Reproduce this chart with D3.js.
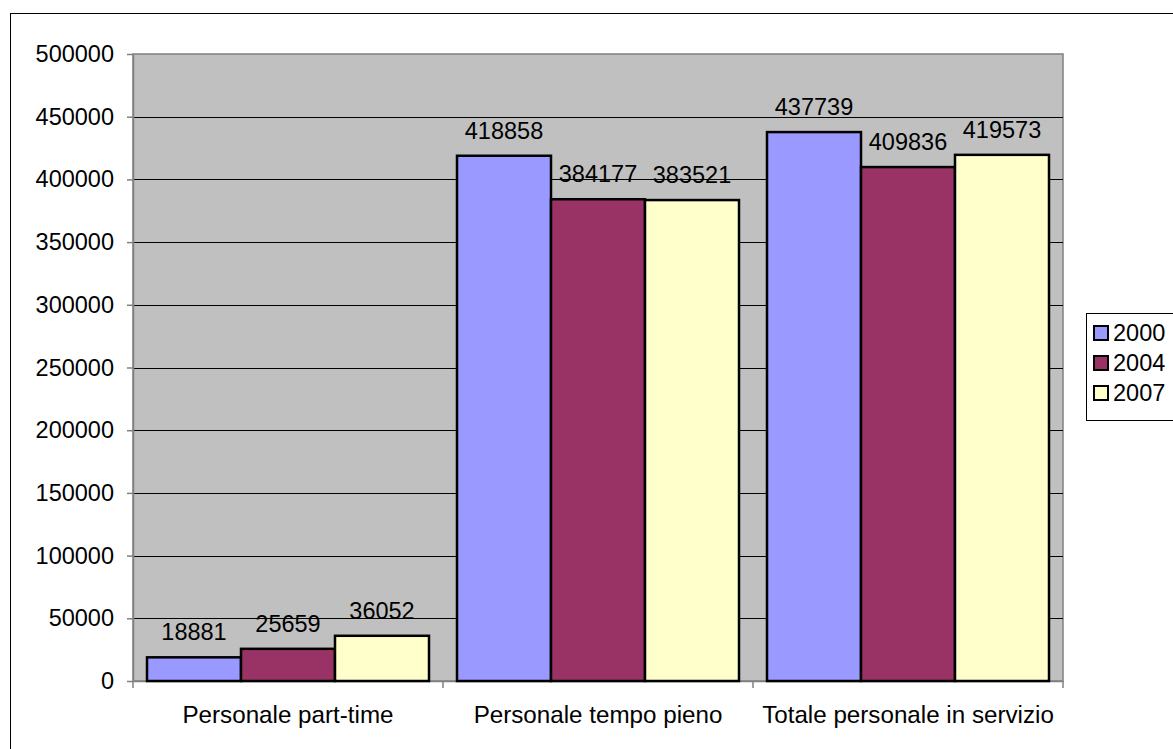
<!DOCTYPE html>
<html><head><meta charset="utf-8">
<script src="https://cdn.jsdelivr.net/npm/d3@7"></script>
<style>html,body{margin:0;padding:0;background:#fff;overflow:hidden}</style>
</head><body>
<svg id="c" width="1173" height="749"></svg>
<script>
const categories = ["Personale part-time", "Personale tempo pieno", "Totale personale in servizio"];
const seriesNames = ["2000", "2004", "2007"];
const values2000 = [18881, 418858, 437739];
const values2004 = [25659, 384177, 409836];
const values2007 = [36052, 383521, 419573];
const yTicks = [0, 50000, 100000, 150000, 200000, 250000, 300000, 350000, 400000, 450000, 500000];
const colors = ["#9999FF", "#993366", "#FFFFCC"];

const series = [values2000, values2004, values2007];
const svg = d3.select("#c");
const font = "'Liberation Sans', Arial, sans-serif";
const fs = 23.5;
const fsCat = 24.2;

// outer chart border
svg.append("rect").attr("x", 10.5).attr("y", 13.5).attr("width", 1200).attr("height", 800)
  .attr("fill", "#fff").attr("stroke", "#000").attr("stroke-width", 1);

const L = 133, R = 1063, T = 54, B = 681;
const x0 = d3.scaleBand().domain(categories).range([L, R]).paddingInner(0).paddingOuter(0);
const y = d3.scaleLinear().domain([0, 500000]).range([B, T]);
const groupFrac = 282 / 310;
const x1 = d3.scaleBand().domain(seriesNames)
  .range([(1 - groupFrac) / 2 * x0.bandwidth(), (1 + groupFrac) / 2 * x0.bandwidth()]).padding(0);

// plot area
svg.append("rect").attr("x", L).attr("y", T).attr("width", R - L).attr("height", B - T)
  .attr("fill", "#C0C0C0").attr("stroke", "#808080").attr("stroke-width", 1.5);

// gridlines
svg.append("g").selectAll("line").data(yTicks.filter(d => d > 0 && d < 500000)).join("line")
  .attr("x1", L).attr("x2", R).attr("y1", d => Math.round(y(d)) + 0.5).attr("y2", d => Math.round(y(d)) + 0.5)
  .attr("stroke", "#000").attr("stroke-width", 1);

// y axis
const yAxis = svg.append("g").attr("transform", `translate(${L},0)`)
  .call(d3.axisLeft(y).tickValues(yTicks).tickSize(6).tickSizeOuter(0).tickPadding(13).tickFormat(d3.format("d")));
yAxis.select(".domain").attr("stroke", "#808080").attr("stroke-width", 1.5);
yAxis.selectAll(".tick line").attr("stroke", "#808080").attr("stroke-width", 1.5);
yAxis.selectAll("text").attr("font-family", font).attr("font-size", fs).attr("fill", "#000");

// x axis
const xAxis = svg.append("g").attr("transform", `translate(0,${B})`)
  .call(d3.axisBottom(x0).tickSize(0).tickPadding(25));
xAxis.select(".domain").attr("stroke", "#808080").attr("stroke-width", 1.5);
xAxis.selectAll("text").attr("font-family", font).attr("font-size", fsCat).attr("fill", "#000").attr("dy", "0.71em");
// category boundary ticks
svg.append("g").selectAll("line").data([0, 1, 2, 3]).join("line")
  .attr("x1", i => (i < 3 ? x0(categories[i]) : R)).attr("x2", i => (i < 3 ? x0(categories[i]) : R))
  .attr("y1", B).attr("y2", B + 7).attr("stroke", "#808080").attr("stroke-width", 1.5);

// bars
const g = svg.append("g");
categories.forEach((c, ci) => {
  seriesNames.forEach((s, si) => {
    const v = series[si][ci];
    const bx = x0(c) + x1(s);
    g.append("rect").attr("x", bx).attr("y", y(v)).attr("width", x1.bandwidth()).attr("height", B - y(v))
      .attr("fill", colors[si]).attr("stroke", "#000").attr("stroke-width", 2.5);
    g.append("text").attr("x", bx + x1.bandwidth() / 2).attr("y", y(v) - 17)
      .attr("text-anchor", "middle").attr("font-family", font).attr("font-size", fs).attr("fill", "#000").text(v);
  });
});

// legend
const lg = svg.append("g");
lg.append("rect").attr("x", 1086.5).attr("y", 313.5).attr("width", 120).attr("height", 107)
  .attr("fill", "#fff").attr("stroke", "#000").attr("stroke-width", 1);
seriesNames.forEach((s, i) => {
  const cy = 333 + i * 30;
  lg.append("rect").attr("x", 1094).attr("y", cy - 7).attr("width", 14).attr("height", 14)
    .attr("fill", colors[i]).attr("stroke", "#000").attr("stroke-width", 2);
  lg.append("text").attr("x", 1113).attr("y", cy + 8).attr("font-family", font).attr("font-size", fs)
    .attr("fill", "#000").text(s);
});
</script>
</body></html>
